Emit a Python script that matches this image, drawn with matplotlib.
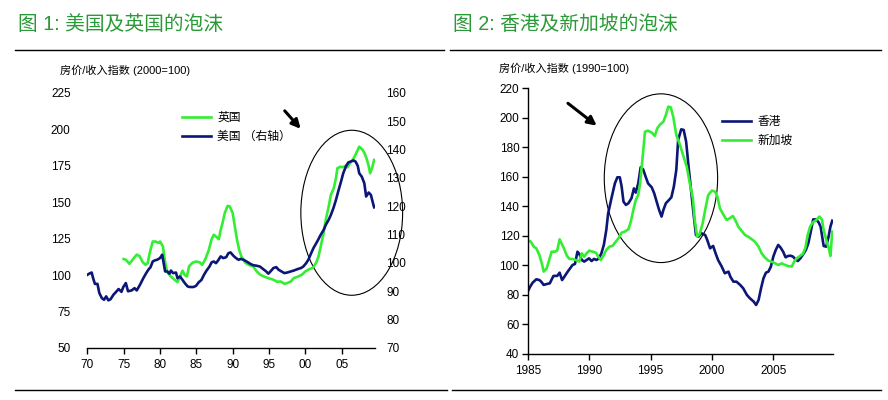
import matplotlib
matplotlib.use("Agg")
import matplotlib.pyplot as plt
from matplotlib.patches import Ellipse
from matplotlib.lines import Line2D
from matplotlib import font_manager

plt.rcParams['font.family'] = ['Liberation Sans', 'Noto Sans CJK SC', 'DejaVu Sans']

_names = {f.name for f in font_manager.fontManager.ttflist}
NARROW = 'Liberation Sans Narrow' if 'Liberation Sans Narrow' in _names else 'Liberation Sans'

# ---------------- data: chart 1 (UK left axis, US right axis) ----------------
uk_years = [1975.0, 1975.3, 1975.8, 1976.3, 1976.8, 1977.2, 1977.6, 1978.0, 1978.3, 1978.6,
            1979.0, 1979.4, 1979.8, 1980.0, 1980.4, 1980.7, 1981.0, 1981.5, 1982.0, 1982.4,
            1982.8, 1983.1, 1983.4, 1983.7, 1984.0, 1984.5, 1985.0, 1985.5, 1985.8, 1986.2,
            1986.7, 1987.1, 1987.4, 1987.8, 1988.1, 1988.3, 1988.6, 1988.9, 1989.3, 1989.6,
            1990.0, 1990.3, 1990.6, 1990.9, 1991.2, 1991.7, 1992.2, 1992.8, 1993.3, 1993.8,
            1994.3, 1994.9, 1995.6, 1996.1, 1996.6, 1997.1, 1997.5, 1998.0, 1998.4, 1999.0,
            1999.5, 2000.0, 2000.5, 2001.0, 2001.5, 2001.8, 2002.1, 2002.5, 2002.8, 2003.2,
            2003.5, 2003.9, 2004.2, 2004.4, 2004.8, 2005.1, 2005.5, 2005.8, 2006.1, 2006.5,
            2006.8, 2007.2, 2007.4, 2007.8, 2008.1, 2008.4, 2008.7, 2008.9, 2009.2, 2009.45]
uk_values = [111.0, 110.5, 107.7, 111.0, 114.0, 113.0, 109.0, 107.0, 108.0, 115.5,
             123.0, 123.0, 122.0, 123.0, 119.6, 109.0, 102.0, 99.0, 96.8, 95.2,
             99.5, 103.0, 100.0, 99.0, 106.0, 108.6, 109.3, 108.6, 107.0, 110.5,
             117.0, 124.6, 127.6, 126.0, 124.6, 130.0, 135.6, 142.4, 147.4, 147.0,
             142.4, 133.0, 124.0, 117.0, 112.7, 108.6, 107.0, 106.0, 102.5, 100.2,
             99.0, 97.9, 96.8, 95.4, 95.6, 94.0, 94.5, 95.6, 97.9, 99.0,
             100.2, 102.5, 104.0, 104.8, 108.6, 112.7, 119.6, 128.7, 137.8, 147.0,
             155.0, 159.5, 166.4, 173.2, 174.3, 173.9, 174.8, 173.9, 176.6, 178.9,
             181.6, 185.8, 188.0, 186.2, 183.9, 180.0, 174.8, 169.8, 173.9, 178.9]

us_years = [1970.0, 1970.4, 1970.6, 1970.8, 1971.05, 1971.4, 1971.65, 1972.0, 1972.3, 1972.6,
            1972.9, 1973.2, 1973.6, 1973.9, 1974.3, 1974.7, 1974.95, 1975.3, 1975.6, 1976.1,
            1976.5, 1976.8, 1977.25, 1977.7, 1978.1, 1978.4, 1978.7, 1979.0, 1979.3, 1979.6,
            1980.0, 1980.3, 1980.5, 1980.7, 1981.0, 1981.3, 1981.5, 1981.8, 1982.2, 1982.4,
            1982.75, 1983.1, 1983.4, 1983.8, 1984.1, 1984.6, 1984.95, 1985.3, 1985.7, 1986.05,
            1986.4, 1986.8, 1987.1, 1987.4, 1987.7, 1988.0, 1988.35, 1988.7, 1989.1, 1989.4,
            1989.7, 1990.1, 1990.45, 1990.8, 1991.1, 1991.5, 1991.9, 1992.4, 1992.8, 1993.3,
            1993.75, 1994.2, 1994.6, 1994.9, 1995.2, 1995.6, 1996.0, 1996.3, 1996.7, 1997.1,
            1997.5, 1998.0, 1998.4, 1998.9, 1999.4, 1999.7, 2000.1, 2000.4, 2000.7, 2001.1,
            2001.5, 2001.8, 2002.1, 2002.5, 2002.8, 2003.2, 2003.5, 2003.85, 2004.2, 2004.5,
            2004.9, 2005.2, 2005.6, 2005.9, 2006.2, 2006.6, 2006.9, 2007.2, 2007.4, 2007.75,
            2008.1, 2008.35, 2008.7, 2009.0, 2009.3, 2009.45]
us_values = [95.8, 96.4, 96.6, 94.6, 92.6, 92.6, 89.4, 87.6, 87.0, 88.2,
             86.8, 87.2, 88.8, 89.6, 90.8, 89.8, 91.5, 92.9, 90.0, 90.3,
             91.1, 90.3, 92.3, 94.6, 96.4, 97.6, 98.5, 100.5, 100.9, 101.1,
             101.7, 102.9, 100.0, 97.0, 97.0, 96.2, 97.3, 96.4, 96.6, 94.6,
             95.2, 94.0, 92.9, 91.7, 91.5, 91.5, 91.9, 93.1, 94.0, 95.8,
             97.3, 98.7, 100.2, 100.5, 99.9, 100.9, 102.3, 101.7, 102.0, 103.4,
             103.7, 102.5, 101.7, 101.1, 101.4, 101.1, 100.5, 99.7, 99.2, 99.0,
             98.7, 97.8, 97.0, 96.2, 97.0, 98.2, 98.5, 97.6, 97.0, 96.4,
             96.6, 97.0, 97.3, 97.8, 98.2, 98.7, 99.9, 101.1, 102.9, 105.2,
             107.0, 108.4, 109.9, 111.6, 113.4, 115.2, 116.9, 119.3, 122.2, 125.1,
             128.7, 131.6, 134.2, 135.4, 135.7, 136.1, 135.7, 134.2, 131.6, 130.4,
             128.1, 123.4, 124.8, 124.0, 121.0, 119.6]

# ---------------- data: chart 2 (Hong Kong, Singapore) ----------------
hk_years = [1985.0, 1985.2, 1985.4, 1985.7, 1985.95, 1986.1, 1986.3, 1986.55, 1986.8, 1987.0,
            1987.1, 1987.4, 1987.6, 1987.8, 1987.95, 1988.2, 1988.45, 1988.65, 1988.85, 1989.05,
            1989.2, 1989.4, 1989.6, 1989.8, 1990.0, 1990.2, 1990.4, 1990.6, 1990.8, 1991.0,
            1991.2, 1991.4, 1991.55, 1991.85, 1992.1, 1992.3, 1992.5, 1992.65, 1992.8, 1993.0,
            1993.2, 1993.45, 1993.65, 1993.8, 1994.0, 1994.2, 1994.4, 1994.6, 1994.8, 1995.1,
            1995.3, 1995.5, 1995.7, 1995.9, 1996.05, 1996.25, 1996.5, 1996.7, 1996.9, 1997.1,
            1997.25, 1997.5, 1997.7, 1997.9, 1998.1, 1998.3, 1998.5, 1998.7, 1998.9, 1999.15,
            1999.45, 1999.6, 1999.85, 2000.1, 2000.3, 2000.5, 2000.8, 2001.05, 2001.35, 2001.5,
            2001.75, 2002.0, 2002.3, 2002.55, 2002.85, 2003.1, 2003.4, 2003.6, 2003.8, 2004.0,
            2004.2, 2004.4, 2004.6, 2004.8, 2005.0, 2005.2, 2005.4, 2005.6, 2005.8, 2006.0,
            2006.2, 2006.4, 2006.6, 2006.85, 2007.0, 2007.2, 2007.45, 2007.65, 2007.85, 2008.05,
            2008.25, 2008.5, 2008.7, 2008.85, 2009.1, 2009.3, 2009.5, 2009.65, 2009.8]
hk_values = [82.2, 85.6, 88.3, 90.6, 90.1, 89.0, 86.8, 87.4, 87.9, 91.3,
             92.9, 92.9, 95.1, 90.1, 91.9, 95.1, 98.0, 100.3, 101.0, 109.3,
             107.8, 103.7, 102.6, 103.7, 104.8, 103.0, 104.4, 103.7, 104.8, 108.2,
             113.9, 124.0, 135.3, 146.6, 155.6, 159.7, 159.7, 153.4, 143.2, 141.0,
             142.1, 145.5, 152.2, 149.3, 155.6, 166.5, 165.1, 160.2, 155.6, 152.9,
             148.9, 143.2, 137.6, 133.1, 137.6, 142.1, 144.3, 146.2, 153.4, 164.7,
             185.0, 192.2, 191.8, 183.9, 166.9, 151.1, 135.3, 120.6, 119.5, 121.8,
             120.6, 117.7, 111.6, 113.2, 108.2, 103.7, 99.2, 94.7, 95.8, 92.4,
             89.0, 89.0, 86.8, 84.5, 80.0, 77.7, 75.5, 73.2, 76.6, 84.5,
             91.3, 95.1, 95.8, 99.2, 106.0, 110.5, 113.9, 112.0, 109.3, 105.5,
             106.4, 106.6, 106.0, 103.7, 103.0, 104.8, 107.8, 110.5, 115.0, 122.9,
             131.2, 131.2, 129.0, 126.3, 113.2, 112.7, 119.5, 126.3, 130.3]

sg_years = [1985.0, 1985.25, 1985.5, 1985.7, 1985.95, 1986.15, 1986.3, 1986.55, 1986.75, 1986.95,
            1987.2, 1987.4, 1987.6, 1987.75, 1987.95, 1988.2, 1988.4, 1988.65, 1988.9, 1989.2,
            1989.4, 1989.6, 1989.8, 1990.0, 1990.3, 1990.55, 1990.75, 1990.95, 1991.15, 1991.4,
            1991.65, 1991.9, 1992.1, 1992.4, 1992.65, 1992.9, 1993.2, 1993.4, 1993.6, 1993.8,
            1994.0, 1994.15, 1994.35, 1994.55, 1994.8, 1995.1, 1995.35, 1995.55, 1995.75, 1996.05,
            1996.25, 1996.45, 1996.65, 1996.85, 1997.1, 1997.4, 1997.65, 1997.95, 1998.2, 1998.45,
            1998.6, 1998.8, 1999.0, 1999.25, 1999.45, 1999.7, 2000.0, 2000.25, 2000.45, 2000.65,
            2000.9, 2001.2, 2001.45, 2001.7, 2001.9, 2002.15, 2002.4, 2002.7, 2002.95, 2003.25,
            2003.5, 2003.8, 2004.05, 2004.3, 2004.6, 2004.85, 2005.15, 2005.4, 2005.7, 2005.95,
            2006.2, 2006.5, 2006.7, 2006.9, 2007.1, 2007.4, 2007.6, 2007.8, 2008.0, 2008.2,
            2008.5, 2008.75, 2008.95, 2009.1, 2009.35, 2009.55, 2009.65, 2009.8]
sg_values = [117.2, 116.1, 112.7, 111.6, 107.1, 101.4, 95.8, 98.0, 103.7, 109.3,
             109.3, 110.0, 117.7, 115.0, 111.6, 106.4, 104.4, 104.4, 103.7, 102.6,
             108.2, 105.9, 108.2, 110.0, 109.3, 108.6, 105.9, 103.7, 106.4, 110.5,
             112.7, 113.2, 115.4, 118.4, 122.2, 122.9, 124.5, 129.7, 137.6, 144.3,
             147.7, 155.6, 172.6, 190.6, 191.3, 190.0, 187.7, 192.9, 195.2, 197.4,
             201.9, 207.6, 207.1, 200.8, 188.4, 181.6, 174.8, 166.9, 155.6, 145.5,
             130.8, 119.5, 121.3, 128.5, 137.6, 147.7, 150.7, 150.0, 146.6, 138.7,
             134.9, 130.8, 131.9, 133.5, 130.8, 126.3, 123.6, 120.6, 119.5, 117.7,
             116.1, 112.7, 108.2, 105.5, 103.2, 102.6, 101.4, 100.3, 101.4, 100.3,
             99.6, 99.2, 102.6, 104.8, 106.0, 107.8, 111.6, 120.6, 126.3, 129.0,
             130.8, 133.1, 131.2, 124.0, 116.1, 110.5, 106.4, 122.9]

left_ticks = [50, 75, 100, 125, 150, 175, 200, 225]
right_ticks = [70, 80, 90, 100, 110, 120, 130, 140, 150, 160]
x1_ticks = [1970, 1975, 1980, 1985, 1990, 1995, 2000, 2005]
x1_labels = ['70', '75', '80', '85', '90', '95', '00', '05']
y2_ticks = [40, 60, 80, 100, 120, 140, 160, 180, 200, 220]
x2_ticks = [1985, 1990, 1995, 2000, 2005]

GREEN = '#33EE33'
NAVY = '#0C1676'
TITLE_GREEN = '#2A9A38'

W, H = 888, 400
fig = plt.figure(figsize=(W / 100, H / 100), dpi=100)

def fx(px):
    return px / W

def fy(py):
    return 1 - py / H

# titles and rules
fig.text(fx(18), fy(24), '图 1: 美国及英国的泡沫', color=TITLE_GREEN, fontsize=14.2,
         va='center', ha='left')
fig.text(fx(453), fy(24), '图 2: 香港及新加坡的泡沫', color=TITLE_GREEN, fontsize=14.2,
         va='center', ha='left')
fig.add_artist(Line2D([fx(15), fx(444)], [fy(50), fy(50)], color='black', lw=1.0))
fig.add_artist(Line2D([fx(450), fx(881)], [fy(50), fy(50)], color='black', lw=1.0))
fig.add_artist(Line2D([fx(15), fx(447)], [fy(390), fy(390)], color='black', lw=1.0))
fig.add_artist(Line2D([fx(452), fx(881)], [fy(390), fy(390)], color='black', lw=1.0))

fig.text(fx(60), fy(70), '房价/收入指数 (2000=100)', fontsize=8, va='center', ha='left')
fig.text(fx(499), fy(68), '房价/收入指数 (1990=100)', fontsize=8, va='center', ha='left')

# ---------------- chart 1 ----------------
ax1 = fig.add_axes([fx(87.3), fy(348), fx(375 - 87.3), (348 - 92.7) / H])
ax1r = ax1.twinx()
l_uk, = ax1.plot(uk_years, uk_values, color=GREEN, lw=1.9, label='英国')
l_us, = ax1r.plot(us_years, us_values, color=NAVY, lw=1.9, label='美国 （右轴）')
ax1.set_xlim(1970, 2009.57)
ax1.set_ylim(50, 225)
ax1r.set_ylim(70, 160)
ax1.set_yticks(left_ticks)
ax1r.set_yticks(right_ticks)
ax1.set_xticks(x1_ticks)
ax1.set_xticklabels(x1_labels)
for a in (ax1, ax1r):
    for s in ('top', 'left', 'right'):
        a.spines[s].set_visible(False)
    a.patch.set_visible(False)
ax1r.spines['bottom'].set_visible(False)
ax1.spines['bottom'].set_linewidth(1.0)
ax1.tick_params(axis='y', length=0, pad=12, labelsize=8.5)
ax1r.tick_params(axis='y', length=0, pad=8, labelsize=8.5)
ax1.tick_params(axis='x', length=4, width=1.0, direction='out', pad=4, labelsize=8.5)
for lab in ax1.get_xticklabels() + ax1.get_yticklabels() + ax1r.get_yticklabels():
    lab.set_family(NARROW)

ax1.add_patch(Ellipse((2006.37, 142.7), 14.0, 113.1, fill=False, edgecolor='black',
                      lw=0.8, clip_on=False))
ax1.annotate('', xy=(1999.6, 198.8), xytext=(1996.9, 214.0),
             arrowprops=dict(arrowstyle='-|>', color='black', lw=2.2, mutation_scale=13),
             annotation_clip=False)
fig.legend(handles=[l_uk, l_us], loc='upper left', bbox_to_anchor=(fx(176), fy(106)),
           frameon=False, fontsize=8.5, handlelength=2.5, handletextpad=0.5,
           labelspacing=0.6, borderpad=0)

# ---------------- chart 2 ----------------
ax2 = fig.add_axes([fx(527.7), fy(354), fx(833 - 527.7), (354 - 88.3) / H])
l_hk, = ax2.plot(hk_years, hk_values, color=NAVY, lw=1.9, label='香港')
l_sg, = ax2.plot(sg_years, sg_values, color=GREEN, lw=1.9, label='新加坡')
ax2.set_xlim(1985, 2009.86)
ax2.set_ylim(40, 220)
ax2.set_yticks(y2_ticks)
ax2.set_xticks(x2_ticks)
for s in ('top', 'right'):
    ax2.spines[s].set_visible(False)
for s in ('left', 'bottom'):
    ax2.spines[s].set_linewidth(1.0)
ax2.tick_params(axis='both', length=4, width=1.0, direction='out', labelsize=8.5)
ax2.tick_params(axis='x', pad=4)
ax2.tick_params(axis='y', pad=2)

ax2.add_patch(Ellipse((1995.85, 159.1), 9.23, 114.3, fill=False, edgecolor='black',
                      lw=0.8, clip_on=False))
ax2.annotate('', xy=(1990.8, 193.5), xytext=(1988.1, 211.0),
             arrowprops=dict(arrowstyle='-|>', color='black', lw=2.2, mutation_scale=13),
             annotation_clip=False)
fig.legend(handles=[l_hk, l_sg], loc='upper left', bbox_to_anchor=(fx(716), fy(110)),
           frameon=False, fontsize=8.5, handlelength=2.5, handletextpad=0.5,
           labelspacing=0.6, borderpad=0)

fig.savefig('out.png', dpi=100)
